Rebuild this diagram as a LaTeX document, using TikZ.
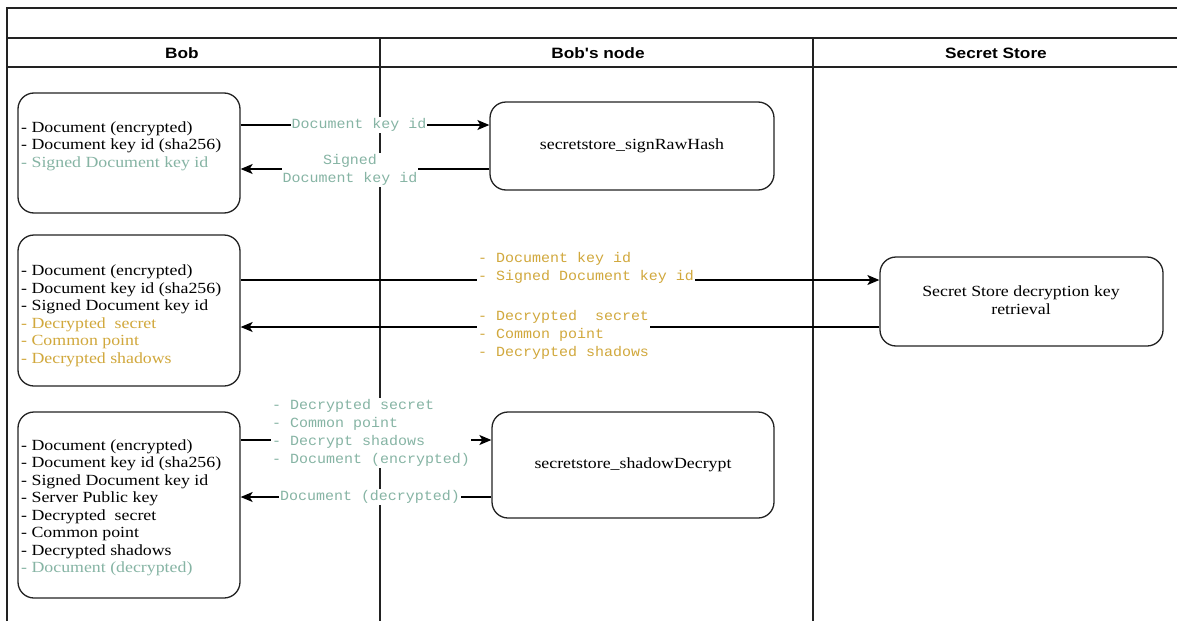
\documentclass[tikz,border=0pt]{standalone}
\usepackage{fontspec}
\setmainfont{Liberation Serif}[FakeStretch=1.15]
\newfontfamily\monof{Liberation Mono}[FakeStretch=1.07]
\newfontfamily\hdrf{Liberation Sans}[FakeStretch=1.15]
\usetikzlibrary{arrows.meta}
\definecolor{tealtxt}{HTML}{86B4A4}
\definecolor{goldtxt}{HTML}{D1A83C}
\definecolor{linec}{HTML}{222222}
\tikzset{
  frameline/.style={draw=linec,line width=1.6pt},
  box/.style={draw=linec,line width=1.3pt,rounded corners=16pt,inner sep=0pt,fill=white},
  boxtext/.style={font=\fontsize{15.5}{17.5}\selectfont,align=left,anchor=west,inner sep=0pt},
  ctext/.style={font=\fontsize{15.5}{17.5}\selectfont,align=center,inner sep=0pt},
  hdr/.style={font=\hdrf\bfseries\fontsize{15}{17}\selectfont,inner sep=0pt},
  lbl/.style={font=\monof\fontsize{14}{18}\selectfont,fill=white,inner sep=1pt},
  arr/.style={draw=black,line width=1.3pt,-{Stealth[length=12pt,width=10pt,inset=3pt]}},
}
\begin{document}
\begin{tikzpicture}[x=1pt,y=-1pt]
\useasboundingbox[fill=white] (0,0) rectangle (1177,621);
% frame
\draw[frameline] (7,621) -- (7,8) -- (1180,8);
\draw[frameline] (7,38) -- (1180,38);
\draw[frameline] (7,67) -- (1180,67);
\draw[frameline] (380,38) -- (380,621);
\draw[frameline] (813,38) -- (813,621);
% headers
\node[hdr] (h1) at (182,53) {Bob};
\node[hdr] (h2) at (598,53) {Bob's node};
\node[hdr] (h3) at (996,53) {Secret Store};
% boxes
\node[box,minimum width=222pt,minimum height=120pt] (b1) at (129,153) {};
\node[box,minimum width=284pt,minimum height=88pt] (b2) at (632,146) {};
\node[box,minimum width=222pt,minimum height=151pt] (b3) at (129,310.5) {};
\node[box,minimum width=283pt,minimum height=89pt] (b4) at (1021.5,301.5) {};
\node[box,minimum width=222pt,minimum height=186pt] (b5) at (129,505) {};
\node[box,minimum width=282pt,minimum height=106pt] (b6) at (633,465) {};
% box texts
\node[boxtext] (t1) at (21,146) {- Document (encrypted)\\- Document key id (sha256)\\\textcolor{tealtxt}{- Signed Document key id}};
\node[ctext] (t2) at (632,146) {secretstore\_signRawHash};
\node[boxtext] (t3) at (21,316) {- Document (encrypted)\\- Document key id (sha256)\\- Signed Document key id\\\textcolor{goldtxt}{- Decrypted~ secret}\\\textcolor{goldtxt}{- Common point}\\\textcolor{goldtxt}{- Decrypted shadows}};
\node[ctext] (t4) at (1021,300) {Secret Store decryption key\\retrieval};
\node[boxtext] (t5) at (21,508) {- Document (encrypted)\\- Document key id (sha256)\\- Signed Document key id\\- Server Public key\\- Decrypted~ secret\\- Common point\\- Decrypted shadows\\\textcolor{tealtxt}{- Document (decrypted)}};
\node[ctext] (t6) at (633,465) {secretstore\_shadowDecrypt};
% helper heights
\coordinate (y1) at (0,125);
\coordinate (y2) at (0,169);
\coordinate (y3) at (0,280);
\coordinate (y4) at (0,327);
\coordinate (y5) at (0,440);
\coordinate (y6) at (0,497);
% connectors
\draw[arr] (b1.east |- y1) -- (b2.west |- y1);
\draw[arr] (b2.west |- y2) -- (b1.east |- y2);
\draw[arr] (b3.east |- y3) -- (b4.west |- y3);
\draw[arr] (b4.west |- y4) -- (b3.east |- y4);
\draw[arr] (b5.east |- y5) -- (b6.west |- y5);
\draw[arr] (b6.west |- y6) -- (b5.east |- y6);
% labels
\node[lbl,text=tealtxt] (l1) at (359,125) {Document key id};
\node[lbl,text=tealtxt,align=center] (l2) at (350,170) {Signed\\Document key id};
\node[lbl,text=goldtxt,align=left,anchor=west] (l3) at (477,268) {- Document key id\\- Signed Document key id};
\node[lbl,text=goldtxt,align=left,anchor=west] (l4) at (477,335) {- Decrypted\ \ secret\\- Common point\\- Decrypted shadows};
\node[lbl,text=tealtxt,align=left,anchor=west] (l5) at (271,433) {- Decrypted secret\\- Common point\\- Decrypt shadows\\- Document (encrypted)};
\node[lbl,text=tealtxt] (l6) at (370,497) {Document (decrypted)};
\end{tikzpicture}
\end{document}
